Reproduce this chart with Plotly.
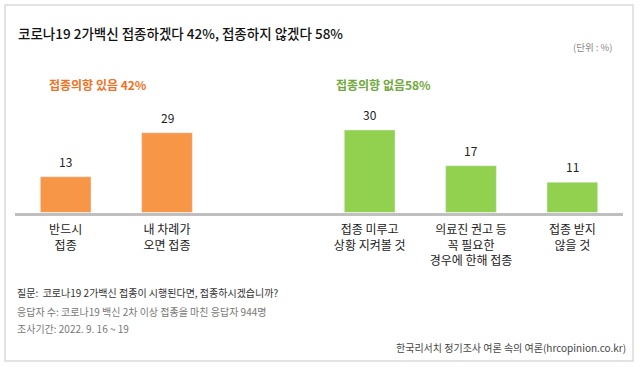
import plotly.graph_objects as go

# ---- data ----
yes_labels = ["반드시<br>접종", "내 차례가<br>오면 접종"]
yes_values = [13, 29]
no_labels = ["접종 미루고<br>상황 지켜볼 것", "의료진 권고 등<br>꼭 필요한<br>경우에 한해 접종", "접종 받지<br>않을 것"]
no_values = [30, 17, 11]
gap_label = " "
category_order = yes_labels + [gap_label] + no_labels

title_text = "코로나19 2가백신 접종하겠다 42%, 접종하지 않겠다 58%"
unit_text = "(단위 : %)"
yes_header = "접종의향 있음 42%"
no_header = "접종의향 없음58%"
notes = [
    "질문:  코로나19 2가백신 접종이 시행된다면, 접종하시겠습니까?",
    "응답자 수: 코로나19 백신 2차 이상 접종을 마친 응답자 944명",
    "조사기간: 2022. 9. 16 ~ 19",
]
source_text = "한국리서치 정기조사 여론 속의 여론(hrcopinion.co.kr)"

# ---- style ----
FONT = "Noto Sans CJK KR"
W, H = 640, 367
ORANGE = "#F79646"
GREEN = "#92D050"
ORANGE_TXT = "#EF7122"
GREEN_TXT = "#70A83B"


def px(x):
    return x / W


def py(y):
    return 1 - y / H


fig = go.Figure()
fig.add_trace(go.Bar(x=yes_labels, y=yes_values, marker_color=ORANGE, width=0.5,
                     hoverinfo="x+y"))
fig.add_trace(go.Bar(x=no_labels, y=no_values, marker_color=GREEN, width=0.5,
                     hoverinfo="x+y"))

annotations = []
for lab, val in list(zip(yes_labels, yes_values)) + list(zip(no_labels, no_values)):
    annotations.append(dict(x=lab, y=val, xref="x", yref="y", text=str(val),
                            showarrow=False, yanchor="middle", yshift=15.5,
                            font=dict(family=FONT, size=12, color="#222222")))

annotations += [
    dict(x=px(16), y=py(33), xref="paper", yref="paper", text=title_text, showarrow=False,
         xanchor="left", yanchor="middle",
         font=dict(family=FONT, size=13.5, color="#111111", weight=500)),
    dict(x=px(615), y=py(47), xref="paper", yref="paper", text=unit_text, showarrow=False,
         xanchor="right", yanchor="middle", font=dict(family=FONT, size=9.5, color="#888888")),
    dict(x=px(98), y=py(84), xref="paper", yref="paper", text=yes_header, showarrow=False,
         xanchor="center", yanchor="middle",
         font=dict(family=FONT, size=12, color=ORANGE_TXT, weight="bold")),
    dict(x=px(383), y=py(84), xref="paper", yref="paper", text=no_header, showarrow=False,
         xanchor="center", yanchor="middle",
         font=dict(family=FONT, size=12, color=GREEN_TXT, weight="bold")),
    dict(x=px(628), y=py(347), xref="paper", yref="paper", text=source_text, showarrow=False,
         xanchor="right", yanchor="middle", font=dict(family=FONT, size=10, color="#444444")),
]
note_y = [292, 311, 328]
note_colors = ["#333333", "#777777", "#777777"]
for t, yy, c in zip(notes, note_y, note_colors):
    annotations.append(dict(x=px(15), y=py(yy), xref="paper", yref="paper", text=t,
                            showarrow=False, xanchor="left", yanchor="middle",
                            font=dict(family=FONT, size=10, color=c)))

fig.update_layout(
    width=W, height=H,
    margin=dict(l=0, r=0, t=0, b=0, pad=0),
    paper_bgcolor="white", plot_bgcolor="white",
    barmode="overlay",
    showlegend=False,
    annotations=annotations,
    shapes=[dict(type="rect", xref="paper", yref="paper",
                 x0=px(5), x1=px(633), y0=py(361), y1=py(5),
                 line=dict(color="#DADADA", width=1.5), fillcolor="rgba(0,0,0,0)", layer="below")],
    xaxis=dict(type="category", categoryorder="array", categoryarray=category_order,
               domain=[px(15), px(623)], showline=True, linecolor="#BFBFBF", linewidth=3,
               showgrid=False, zeroline=False, ticks="", automargin=False,
               ticklabelstandoff=4,
               tickfont=dict(family=FONT, size=12, color="#222222")),
    yaxis=dict(range=[0, 40], domain=[py(212.5), py(102.5)], visible=False,
               showgrid=False, zeroline=False, automargin=False),
    font=dict(family=FONT),
)

fig.write_html("out.html", config={"displayModeBar": False},
               post_script="document.body.style.margin='0';document.body.style.overflow='hidden';")
